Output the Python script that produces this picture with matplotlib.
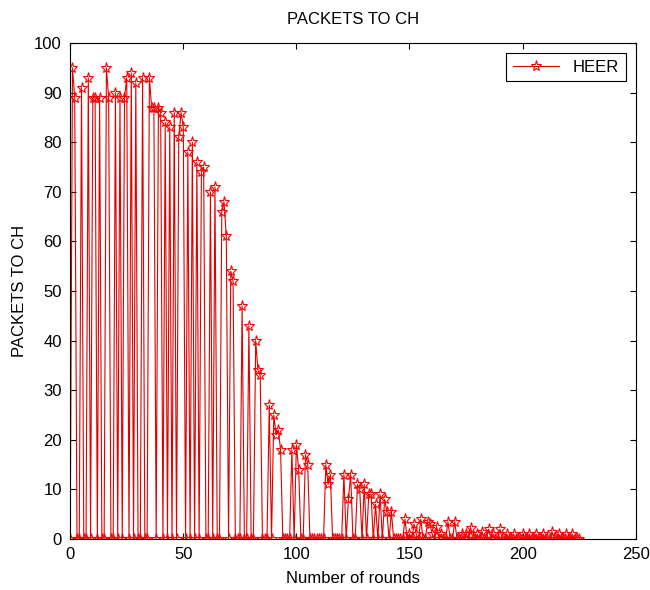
import numpy as np
import matplotlib.pyplot as plt

plt.rcParams['font.family'] = ['Liberation Sans', 'DejaVu Sans']

# rounds with packets sent to CH (all other rounds are 0)
peak_rounds = [1, 2, 5, 8, 10, 11, 13, 16, 17, 20, 22, 24, 25, 27, 29, 32, 35, 36, 37,
               39, 40, 42, 44, 46, 48, 49, 50, 52, 54, 56, 58, 59, 62, 64, 67, 68,
               69, 71, 72, 76, 79, 82, 83, 84, 88, 90, 91, 92, 93, 98, 100, 101,
               104, 105, 113, 114, 115, 121, 123, 124, 127, 128, 130, 132, 133,
               135, 137, 139, 140, 142, 148, 152, 155, 158, 159, 162, 167, 170,
               177, 182, 185, 190, 213]
peak_values = [95, 89, 91, 93, 89, 89, 89, 95, 89, 90, 89, 89, 93, 94, 92, 93, 93, 87, 87,
               87, 86, 84, 83, 86, 81, 86, 83, 78, 80, 76, 74, 75, 70, 71, 66, 68,
               61, 54, 52, 47, 43, 40, 34, 33, 27, 25, 21, 22, 18, 18, 19, 14,
               17, 15, 15, 11, 13, 13, 8, 13, 11, 10, 11, 9, 9,
               7, 9, 8, 5.5, 5.5, 4, 3, 4, 3.5, 3, 2.5, 3.5, 3.5,
               2.3, 1.5, 2, 2, 1.5]
small_rounds = [150, 153, 160, 164, 173, 175, 180, 187, 193, 196, 200, 203,
                206, 209, 216, 219, 222]
small_values = [1] * len(small_rounds)

n_rounds = 226
rounds = np.arange(n_rounds)
packets = np.zeros(n_rounds)
packets[peak_rounds] = peak_values
packets[small_rounds] = small_values

fig = plt.figure(figsize=(6.5, 5.9), dpi=100)
ax = fig.add_axes([0.108, 0.0864, 0.870, 0.8406])

ax.plot(rounds, packets, color='#e00000', linewidth=0.8, marker='*', markersize=8,
        markerfacecolor='none', markeredgecolor='red', markeredgewidth=0.8,
        label='HEER')

ax.set_xlim(0, 250)
ax.set_ylim(0, 100)
ax.set_xticks(np.arange(0, 251, 50))
ax.set_yticks(np.arange(0, 101, 10))
ax.tick_params(direction='in', top=True, right=True, length=4, labelsize=12, pad=6)
ax.set_title('PACKETS TO CH', fontsize=12, pad=14)
ax.set_xlabel('Number of rounds', fontsize=12, labelpad=6)
ax.set_ylabel('PACKETS TO CH', fontsize=12, labelpad=5)

leg = ax.legend(loc='upper right', fancybox=False, framealpha=1,
                edgecolor='black', fontsize=12, handlelength=2.8,
                borderaxespad=0.6)
leg.get_frame().set_linewidth(0.8)

fig.savefig('out.png', dpi=100)
